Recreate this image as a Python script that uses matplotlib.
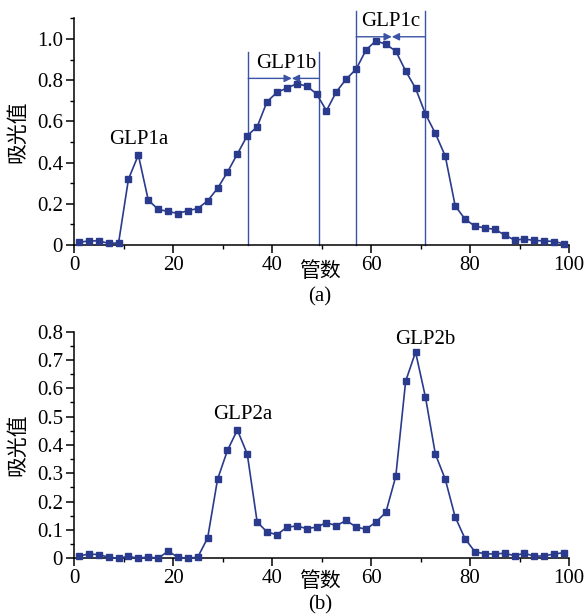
import matplotlib
matplotlib.use("Agg")
import matplotlib.pyplot as plt
from matplotlib.ticker import MultipleLocator, FuncFormatter

plt.rcParams["font.family"] = ["Liberation Serif", "Noto Sans CJK SC"]
plt.rcParams["font.size"] = 15

# tube numbers (odd tubes 1..99)
tubes = list(range(1, 100, 2))

# (a) absorbance
abs_a = [0.013, 0.02, 0.02, 0.008, 0.01, 0.32, 0.437, 0.218, 0.173, 0.163,
         0.153, 0.167, 0.177, 0.215, 0.275, 0.354, 0.442, 0.531, 0.574, 0.696,
         0.741, 0.762, 0.783, 0.772, 0.734, 0.652, 0.744, 0.806, 0.854, 0.947,
         0.992, 0.974, 0.942, 0.845, 0.761, 0.636, 0.542, 0.432, 0.191, 0.125,
         0.092, 0.083, 0.076, 0.049, 0.024, 0.029, 0.022, 0.02, 0.017, 0.006]

# (b) absorbance
abs_b = [0.008, 0.015, 0.013, 0.004, 0.0, 0.007, 0.0, 0.005, 0.0, 0.025,
         0.004, 0.0, 0.004, 0.072, 0.279, 0.381, 0.453, 0.368, 0.128, 0.093,
         0.083, 0.11, 0.114, 0.105, 0.11, 0.126, 0.115, 0.134, 0.11, 0.103,
         0.128, 0.162, 0.289, 0.625, 0.728, 0.569, 0.368, 0.279, 0.146, 0.069,
         0.023, 0.016, 0.015, 0.018, 0.009, 0.018, 0.007, 0.009, 0.015, 0.02]

# fraction boundaries in (a): (name, left, right, arrow y, line top, arrow meet, label x, label y)
fractions_a = [("GLP1b", 35.2, 49.4, 0.809, 0.935, 44.0, 42.8, 0.882),
               ("GLP1c", 57.0, 71.0, 1.011, 1.135, 64.2, 64.0, 1.084)]
peaks_a = [("GLP1a", 13.1, 0.51)]
peaks_b = [("GLP2a", 34.0, 0.506), ("GLP2b", 71.0, 0.773)]

LINE = "#2a3a8c"
VLINE = "#3b53a4"


def style_axis(ax, ymax, ymajor):
    ax.set_xlim(0, 100)
    ax.set_ylim(0, ymax)
    ax.xaxis.set_major_locator(MultipleLocator(20))
    ax.xaxis.set_minor_locator(MultipleLocator(10))
    ax.yaxis.set_major_locator(MultipleLocator(ymajor))
    ax.yaxis.set_minor_locator(MultipleLocator(ymajor / 2))
    ax.yaxis.set_major_formatter(FuncFormatter(lambda v, p: "0" if abs(v) < 1e-9 else f"{v:.1f}"))
    for s in ("top", "right"):
        ax.spines[s].set_visible(False)
    for s in ("left", "bottom"):
        ax.spines[s].set_linewidth(1.1)
    ax.tick_params(which="major", length=6, width=1.1, direction="out", pad=2)
    ax.tick_params(which="minor", length=3, width=1.0, direction="out")
    ax.set_ylabel("吸光值", labelpad=6)


fig = plt.figure(figsize=(5.86, 6.15), dpi=100)
ax1 = fig.add_axes([0.1263, 0.6016, 0.8447, 0.3684])
ax2 = fig.add_axes([0.1263, 0.0922, 0.8447, 0.3685])

# panel (a)
ax1.plot(tubes, abs_a, color=LINE, lw=1.2, marker="s", ms=4.5, clip_on=False, zorder=3)
style_axis(ax1, 1.1, 0.2)
for name, x0, x1, ya, ytop, xm, xt, yt in fractions_a:
    ax1.plot([x0, x0], [0, ytop], color=VLINE, lw=1.0, clip_on=False)
    ax1.plot([x1, x1], [0, ytop], color=VLINE, lw=1.0, clip_on=False)
    for xs in (x0, x1):
        ax1.annotate("", xy=(xm, ya), xytext=(xs, ya),
                     arrowprops=dict(arrowstyle="-|>", color=VLINE, lw=1.0,
                                     mutation_scale=11, shrinkA=0, shrinkB=0),
                     annotation_clip=False)
    ax1.text(xt, yt, name, ha="center", va="center")
for name, x, y in peaks_a:
    ax1.text(x, y, name, ha="center", va="center")

# panel (b)
ax2.plot(tubes, abs_b, color=LINE, lw=1.2, marker="s", ms=4.5, clip_on=False, zorder=3)
style_axis(ax2, 0.8, 0.1)
ax2.yaxis.set_minor_locator(MultipleLocator(0.05))
for name, x, y in peaks_b:
    ax2.text(x, y, name, ha="center", va="center")

# x labels and panel tags
fig.text(0.546, 0.5577, "管数", ha="center", va="center")
fig.text(0.546, 0.517, "(a)", ha="center", va="center")
fig.text(0.546, 0.0537, "管数", ha="center", va="center")
fig.text(0.546, 0.0163, "(b)", ha="center", va="center")

fig.savefig("out.png", dpi=100)
